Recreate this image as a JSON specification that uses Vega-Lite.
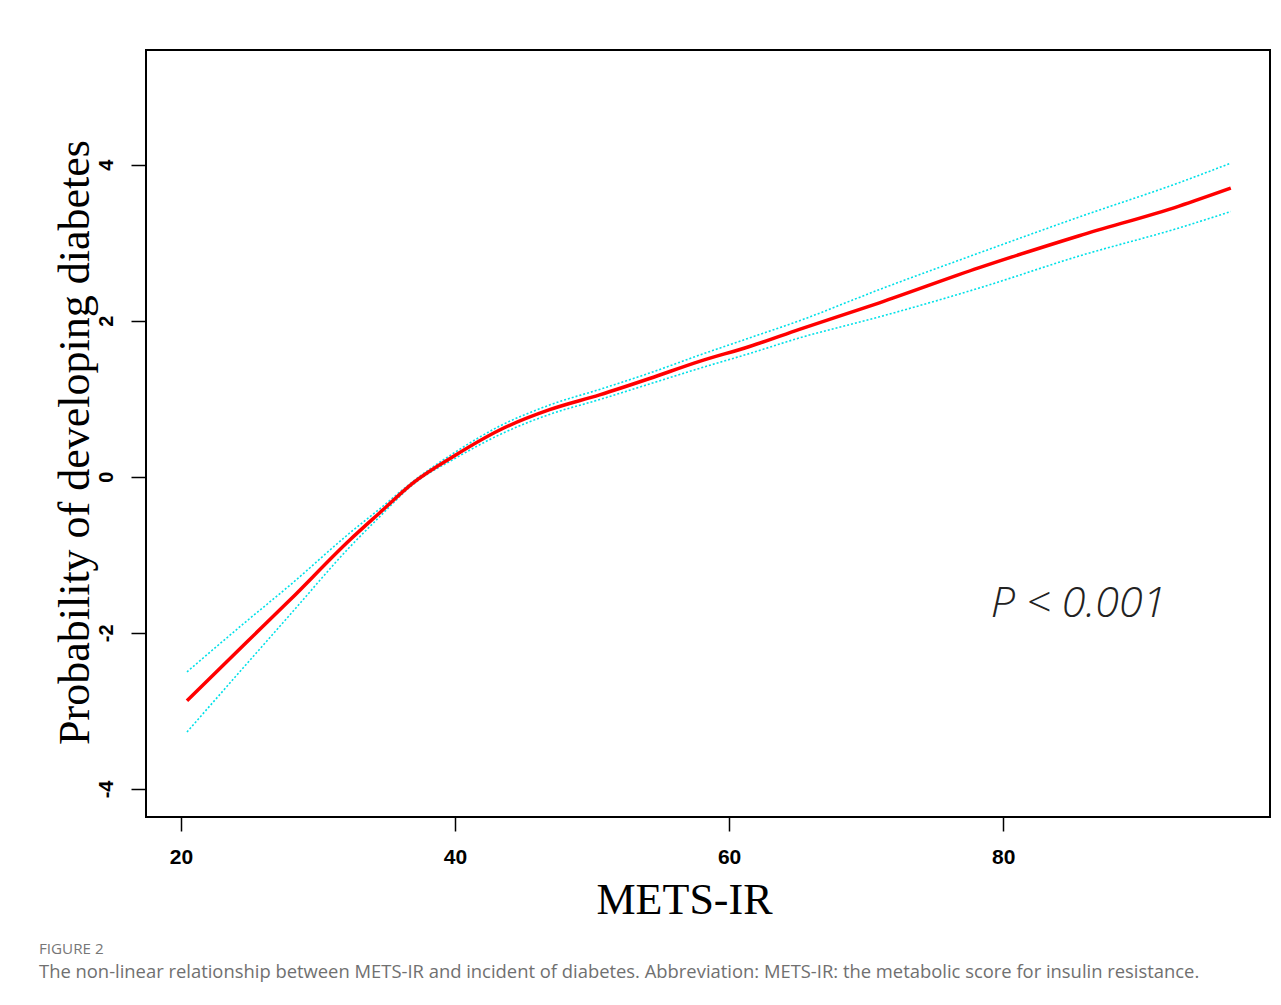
{
  "$schema": "https://vega.github.io/schema/vega-lite/v6.json",
  "width": 1124,
  "height": 767,
  "autosize": {"type": "none"},
  "padding": {"left": 146, "top": 50, "right": 11, "bottom": 188},
  "background": "white",
  "config": {
    "view": {"stroke": "#000", "strokeWidth": 2},
    "axisX": {
      "domain": false, "grid": false,
      "tickColor": "#000", "tickWidth": 1.5, "tickSize": 14,
      "labelFont": "Liberation Sans", "labelFontSize": 21, "labelFontWeight": "bold",
      "labelColor": "#000", "labelPadding": 15,
      "titleFont": "Liberation Serif", "titleFontSize": 44,
      "titleFontWeight": "normal", "titleColor": "#000",
      "titleX": 538, "titleY": 96, "titleAlign": "center", "titleBaseline": "alphabetic"
    },
    "axisY": {
      "domain": false, "grid": false,
      "tickColor": "#000", "tickWidth": 1.5, "tickSize": 15,
      "labelAngle": -90, "labelAlign": "center", "labelBaseline": "alphabetic",
      "labelExpr": "'' + datum.value",
      "labelFont": "Liberation Sans", "labelFontSize": 20, "labelFontWeight": "bold",
      "labelColor": "#000", "labelPadding": 19,
      "titleFont": "Liberation Serif",
      "titleFontSize": 44, "titleFontWeight": "normal", "titleColor": "#000",
      "titleAngle": -90, "titleX": -58, "titleY": 392, "titleAlign": "center",
      "titleBaseline": "alphabetic"
    }
  },
  "title": {
    "text": "FIGURE 2",
    "subtitle": "The non-linear relationship between METS-IR and incident of diabetes. Abbreviation: METS-IR: the metabolic score for insulin resistance.",
    "orient": "bottom",
    "anchor": "start",
    "frame": "group",
    "dx": -107,
    "offset": 20,
    "font": "Open Sans",
    "fontSize": 15.2,
    "fontWeight": "normal",
    "color": "#777777",
    "subtitleFont": "Open Sans",
    "subtitleFontSize": 18.4,
    "subtitleColor": "#707070",
    "subtitlePadding": 6
  },
  "data": {
    "values": [
      {"x": 20.44, "fit": -2.87, "lower": -3.27, "upper": -2.50},
      {"x": 24.79, "fit": -2.12, "lower": -2.40, "upper": -1.85},
      {"x": 27.95, "fit": -1.58, "lower": -1.77, "upper": -1.39},
      {"x": 32.32, "fit": -0.81, "lower": -0.90, "upper": -0.72},
      {"x": 34.51, "fit": -0.46, "lower": -0.51, "upper": -0.41},
      {"x": 36.92, "fit": -0.08, "lower": -0.10, "upper": -0.06},
      {"x": 40.05, "fit": 0.28, "lower": 0.24, "upper": 0.32},
      {"x": 43.26, "fit": 0.60, "lower": 0.54, "upper": 0.65},
      {"x": 46.9, "fit": 0.86, "lower": 0.80, "upper": 0.92},
      {"x": 50.55, "fit": 1.05, "lower": 0.99, "upper": 1.12},
      {"x": 54.2, "fit": 1.26, "lower": 1.19, "upper": 1.33},
      {"x": 57.84, "fit": 1.48, "lower": 1.39, "upper": 1.56},
      {"x": 61.49, "fit": 1.67, "lower": 1.58, "upper": 1.78},
      {"x": 65.13, "fit": 1.89, "lower": 1.78, "upper": 2.00},
      {"x": 70.97, "fit": 2.23, "lower": 2.05, "upper": 2.40},
      {"x": 78.26, "fit": 2.68, "lower": 2.42, "upper": 2.87},
      {"x": 85.55, "fit": 3.09, "lower": 2.83, "upper": 3.33},
      {"x": 92.84, "fit": 3.47, "lower": 3.19, "upper": 3.77},
      {"x": 96.61, "fit": 3.70, "lower": 3.40, "upper": 4.02}
    ]
  },
  "layer": [
    {
      "mark": {"type": "line", "color": "#00e0e8", "strokeWidth": 1.6, "strokeDash": [2, 2], "interpolate": "monotone"},
      "encoding": {
        "x": {"field": "x", "type": "quantitative", "title": "METS-IR", "scale": {"domain": [17.45, 99.47], "nice": false, "zero": false}, "axis": {"values": [20, 40, 60, 80]}},
        "y": {"field": "lower", "type": "quantitative", "title": "Probability of developing diabetes", "scale": {"domain": [-4.36, 5.47], "nice": false, "zero": false}, "axis": {"values": [-4, -2, 0, 2, 4]}}
      }
    },
    {
      "mark": {"type": "line", "color": "#00e0e8", "strokeWidth": 1.6, "strokeDash": [2, 2], "interpolate": "monotone"},
      "encoding": {
        "x": {"field": "x", "type": "quantitative", "title": "METS-IR", "scale": {"domain": [17.45, 99.47], "nice": false, "zero": false}, "axis": {"values": [20, 40, 60, 80]}},
        "y": {"field": "upper", "type": "quantitative", "title": "Probability of developing diabetes", "scale": {"domain": [-4.36, 5.47], "nice": false, "zero": false}, "axis": {"values": [-4, -2, 0, 2, 4]}}
      }
    },
    {
      "mark": {"type": "line", "color": "#ff0000", "strokeWidth": 3.5, "interpolate": "monotone"},
      "encoding": {
        "x": {"field": "x", "type": "quantitative", "title": "METS-IR", "scale": {"domain": [17.45, 99.47], "nice": false, "zero": false}, "axis": {"values": [20, 40, 60, 80]}},
        "y": {"field": "fit", "type": "quantitative", "title": "Probability of developing diabetes", "scale": {"domain": [-4.36, 5.47], "nice": false, "zero": false}, "axis": {"values": [-4, -2, 0, 2, 4]}}
      }
    },
    {
      "data": {"values": [{"x": 85.5, "y": -1.8, "label": "P < 0.001"}]},
      "mark": {"type": "text", "font": "Open Sans", "fontSize": 43, "fontStyle": "italic", "fontWeight": 300, "color": "#222222", "align": "center", "baseline": "alphabetic"},
      "encoding": {
        "x": {"field": "x", "type": "quantitative", "title": "METS-IR", "scale": {"domain": [17.45, 99.47], "nice": false, "zero": false}, "axis": {"values": [20, 40, 60, 80]}},
        "y": {"field": "y", "type": "quantitative", "title": "Probability of developing diabetes", "scale": {"domain": [-4.36, 5.47], "nice": false, "zero": false}, "axis": {"values": [-4, -2, 0, 2, 4]}},
        "text": {"field": "label"}
      }
    }
  ]
}
